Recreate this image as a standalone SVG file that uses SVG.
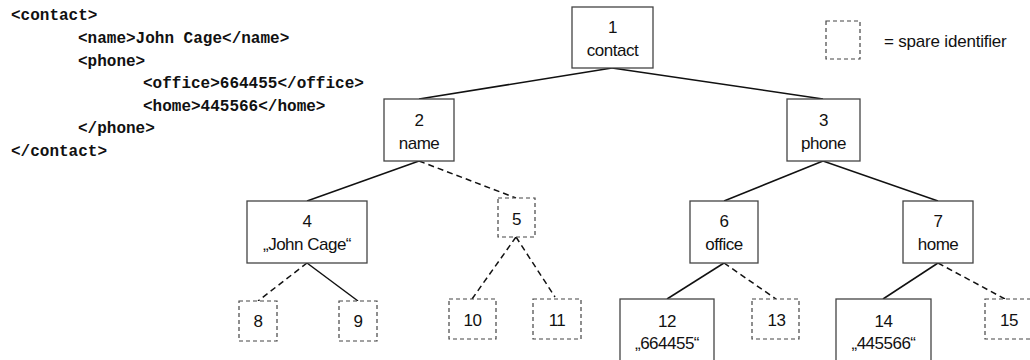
<svg xmlns="http://www.w3.org/2000/svg" width="1030" height="360" viewBox="0 0 1030 360">
<style>
.code{font-family:"Liberation Mono","Courier New",monospace;font-weight:bold;font-size:16px;fill:#111}
.t{font-family:"Liberation Sans",Arial,sans-serif;font-size:17px;letter-spacing:-0.5px;fill:#111;text-anchor:middle}
.lg{font-family:"Liberation Sans",Arial,sans-serif;font-size:17px;letter-spacing:-0.2px;fill:#111}
.box{fill:#fff;stroke:#444;stroke-width:1.3}
.sp{fill:#fff;stroke:#444;stroke-width:1.2;stroke-dasharray:4 3}
.e{stroke:#111;stroke-width:1.5;fill:none}
.d{stroke:#111;stroke-width:1.5;fill:none;stroke-dasharray:6 4}
</style>
<rect width="1030" height="360" fill="#fff"/>
<g id="xml">
<text class="code" x="11" y="20">&lt;contact&gt;</text>
<text class="code" x="78" y="43">&lt;name&gt;John Cage&lt;/name&gt;</text>
<text class="code" x="78" y="65.5">&lt;phone&gt;</text>
<text class="code" x="143" y="88">&lt;office&gt;664455&lt;/office&gt;</text>
<text class="code" x="143" y="110.5">&lt;home&gt;445566&lt;/home&gt;</text>
<text class="code" x="78" y="133">&lt;/phone&gt;</text>
<text class="code" x="11" y="156">&lt;/contact&gt;</text>
</g>
<g id="connectors">
<line class="e" x1="612" y1="68" x2="419" y2="99"/>
<line class="e" x1="612" y1="68" x2="823" y2="99"/>
<line class="e" x1="419" y1="161" x2="307" y2="201"/>
<line class="d" x1="419" y1="161" x2="516" y2="198"/>
<line class="d" x1="307" y1="263" x2="258" y2="301"/>
<line class="e" x1="307" y1="263" x2="358" y2="301"/>
<line class="d" x1="516" y1="237" x2="472" y2="299"/>
<line class="d" x1="516" y1="237" x2="555" y2="297"/>
<line class="e" x1="823" y1="161" x2="724" y2="201"/>
<line class="e" x1="823" y1="161" x2="938" y2="201"/>
<line class="e" x1="724" y1="263" x2="667" y2="299"/>
<line class="d" x1="724" y1="263" x2="776" y2="299"/>
<line class="e" x1="938" y1="263" x2="883" y2="299"/>
<line class="d" x1="938" y1="263" x2="1005" y2="299"/>
</g>
<g id="legend">
<rect class="sp" x="826" y="21" width="34" height="38"/>
<text class="lg" x="884" y="47">= spare identifier</text>
</g>
<g id="n1"><rect class="box" x="572" y="7" width="81" height="61"/><text class="t" x="612.5" y="33">1</text><text class="t" x="612.5" y="56">contact</text></g>
<g id="n2"><rect class="box" x="384" y="99" width="70" height="62"/><text class="t" x="419" y="126">2</text><text class="t" x="419" y="149">name</text></g>
<g id="n3"><rect class="box" x="787" y="99" width="73" height="62"/><text class="t" x="823.5" y="126">3</text><text class="t" x="823.5" y="149">phone</text></g>
<g id="n4"><rect class="box" x="247" y="201" width="120" height="62"/><text class="t" x="307" y="227">4</text><text class="t" x="307" y="250">„John Cage“</text></g>
<g id="n5"><rect class="sp" x="498" y="198" width="37" height="39"/><text class="t" x="516.5" y="225">5</text></g>
<g id="n6"><rect class="box" x="690" y="201" width="68" height="62"/><text class="t" x="724" y="227">6</text><text class="t" x="724" y="250">office</text></g>
<g id="n7"><rect class="box" x="903" y="201" width="70" height="62"/><text class="t" x="938" y="227">7</text><text class="t" x="938" y="250">home</text></g>
<g id="n8"><rect class="sp" x="239" y="301" width="38" height="40"/><text class="t" x="258" y="327">8</text></g>
<g id="n9"><rect class="sp" x="339" y="301" width="38" height="40"/><text class="t" x="358" y="327">9</text></g>
<g id="n10"><rect class="sp" x="449" y="299" width="47" height="40"/><text class="t" x="472.5" y="326">10</text></g>
<g id="n11"><rect class="sp" x="533" y="299" width="48" height="40"/><text class="t" x="557" y="326">11</text></g>
<g id="n12"><rect class="box" x="620" y="299" width="94" height="64"/><text class="t" x="667" y="327">12</text><text class="t" x="667" y="349">„664455“</text></g>
<g id="n13"><rect class="sp" x="752" y="299" width="47" height="40"/><text class="t" x="776.5" y="326">13</text></g>
<g id="n14"><rect class="box" x="836" y="299" width="95" height="64"/><text class="t" x="883.5" y="327">14</text><text class="t" x="883.5" y="349">„445566“</text></g>
<g id="n15"><rect class="sp" x="985" y="299" width="48" height="40"/><text class="t" x="1009" y="326">15</text></g>
</svg>
